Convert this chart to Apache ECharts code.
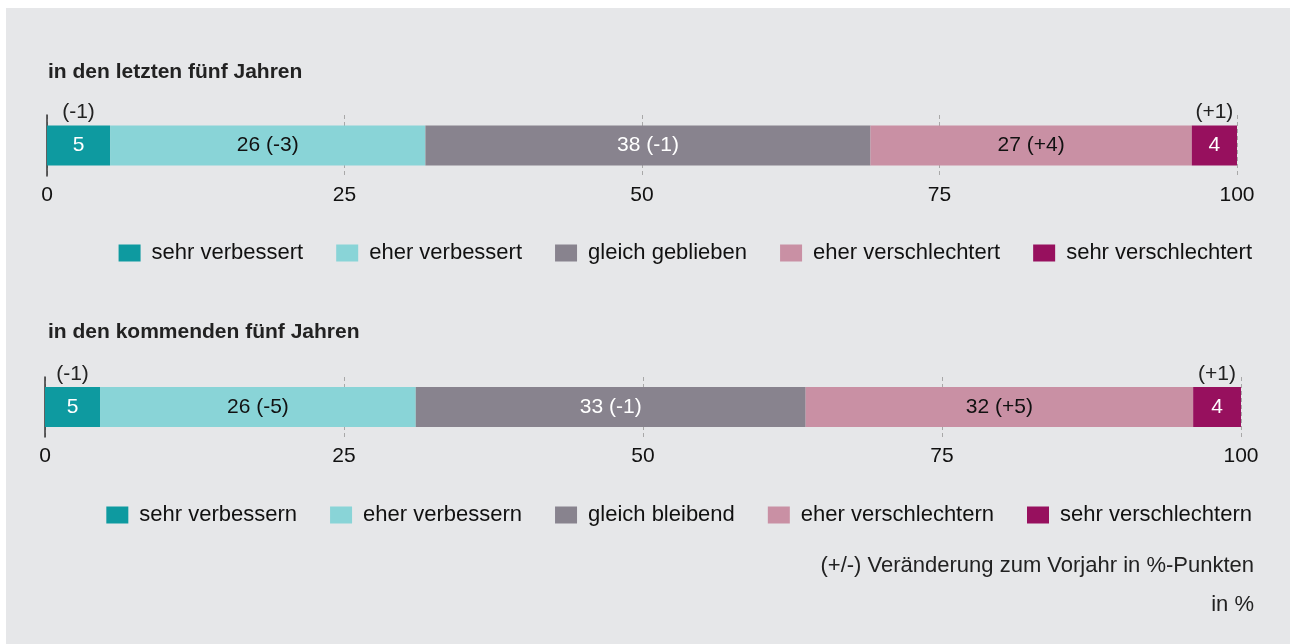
<!DOCTYPE html>
<html lang="de">
<head>
<meta charset="utf-8">
<title>Entwicklung</title>
<script src="https://cdn.jsdelivr.net/npm/echarts@6/dist/echarts.min.js"></script>
<style>
  html, body { margin: 0; padding: 0; background: #ffffff; }
  .panel { position: absolute; left: 6px; top: 8px; right: 0; bottom: 0; background: #e6e7e9; }
  #chart { position: absolute; left: 0; top: 0; width: 1290px; height: 644px; }
</style>
</head>
<body>
<div class="panel"></div>
<div id="chart"></div>
<script>
// letzten fünf Jahre
const topNames = ['sehr verbessert', 'eher verbessert', 'gleich geblieben', 'eher verschlechtert', 'sehr verschlechtert']
const topValues = [5.3, 26.5, 37.4, 27.0, 3.8]
const topShown = [5, 26, 38, 27, 4]
const topChange = ['-1', '-3', '-1', '+4', '+1']

// kommende fünf Jahre
const bottomNames = ['sehr verbessern', 'eher verbessern', 'gleich bleibend', 'eher verschlechtern', 'sehr verschlechtern']
const bottomValues = [4.6, 26.4, 32.6, 32.4, 4.0]
const bottomShown = [5, 26, 33, 32, 4]
const bottomChange = ['-1', '-5', '-1', '+5', '+1']

const axisTicks = [0, 25, 50, 75, 100]

const colors = ['#0e9aa0', '#89d4d7', '#88838e', '#c990a4', '#97105e']
const labelColors = ['#ffffff', '#111111', '#ffffff', '#111111', '#ffffff']
const font = '"Liberation Sans", Arial, sans-serif'

const makeSeries = (names, values, shown, change, idx) =>
  names.map((name, i) => {
    const small = values[i] < 8
    return {
      name: name,
      type: 'bar',
      stack: 'g' + idx,
      xAxisIndex: idx,
      yAxisIndex: idx,
      barWidth: 40,
      itemStyle: { color: colors[i] },
      data: [values[i]],
      label: {
        show: true,
        position: 'inside',
        fontFamily: font,
        fontSize: 21,
        color: labelColors[i],
        formatter: small
          ? '{up|(' + change[i] + ')}\n{v|' + shown[i] + '}\n{v| }'
          : shown[i] + ' (' + change[i] + ')',
        rich: {
          up: { color: '#222222', fontSize: 21, lineHeight: 33, fontFamily: font },
          v: { color: labelColors[i], fontSize: 21, lineHeight: 33, fontFamily: font }
        }
      }
    }
  })

const xAxisBase = {
  type: 'value',
  min: axisTicks[0],
  max: axisTicks[axisTicks.length - 1],
  interval: 25,
  axisLine: { show: false },
  axisTick: { show: false },
  axisLabel: { color: '#111111', fontSize: 21, fontFamily: font, margin: 9 },
  splitLine: { show: true, lineStyle: { color: '#a8a8a8', type: [4, 3], width: 1 } }
}

const yAxisBase = {
  type: 'category',
  data: [''],
  axisLine: { show: true, lineStyle: { color: '#333333', width: 1.5 } },
  axisTick: { show: false },
  axisLabel: { show: false }
}

const legendBase = {
  right: 33,
  itemWidth: 22,
  itemHeight: 17,
  itemGap: 33,
  icon: 'rect',
  textStyle: { color: '#111111', fontSize: 22, fontFamily: font, padding: [0, 0, 0, 6] }
}

const textStyle = (txt, x, y, bold, size, align) => ({
  type: 'text',
  x: x,
  y: y,
  style: {
    text: txt,
    fill: '#222222',
    font: (bold ? 'bold ' : '') + size + 'px ' + font,
    textAlign: align,
    textVerticalAlign: 'middle'
  }
})

const option = {
  animation: false,
  grid: [
    { left: 47, right: 53, top: 115, height: 61 },
    { left: 45, right: 49, top: 377, height: 60 }
  ],
  xAxis: [
    Object.assign({ gridIndex: 0 }, xAxisBase),
    Object.assign({ gridIndex: 1 }, xAxisBase)
  ],
  yAxis: [
    Object.assign({ gridIndex: 0 }, yAxisBase),
    Object.assign({ gridIndex: 1 }, yAxisBase)
  ],
  legend: [
    Object.assign({ top: 237, data: topNames }, legendBase),
    Object.assign({ top: 499, data: bottomNames }, legendBase)
  ],
  graphic: [
    textStyle('in den letzten fünf Jahren', 48, 72, true, 21, 'left'),
    textStyle('in den kommenden fünf Jahren', 48, 332, true, 21, 'left'),
    textStyle('(+/-) Veränderung zum Vorjahr in %-Punkten', 1254, 566, false, 22, 'right'),
    textStyle('in %', 1254, 605, false, 22, 'right')
  ],
  series: makeSeries(topNames, topValues, topShown, topChange, 0)
    .concat(makeSeries(bottomNames, bottomValues, bottomShown, bottomChange, 1))
}

const chart = echarts.init(document.getElementById('chart'))
chart.setOption(option)
window.addEventListener('resize', () => chart.resize())
</script>
</body>
</html>
